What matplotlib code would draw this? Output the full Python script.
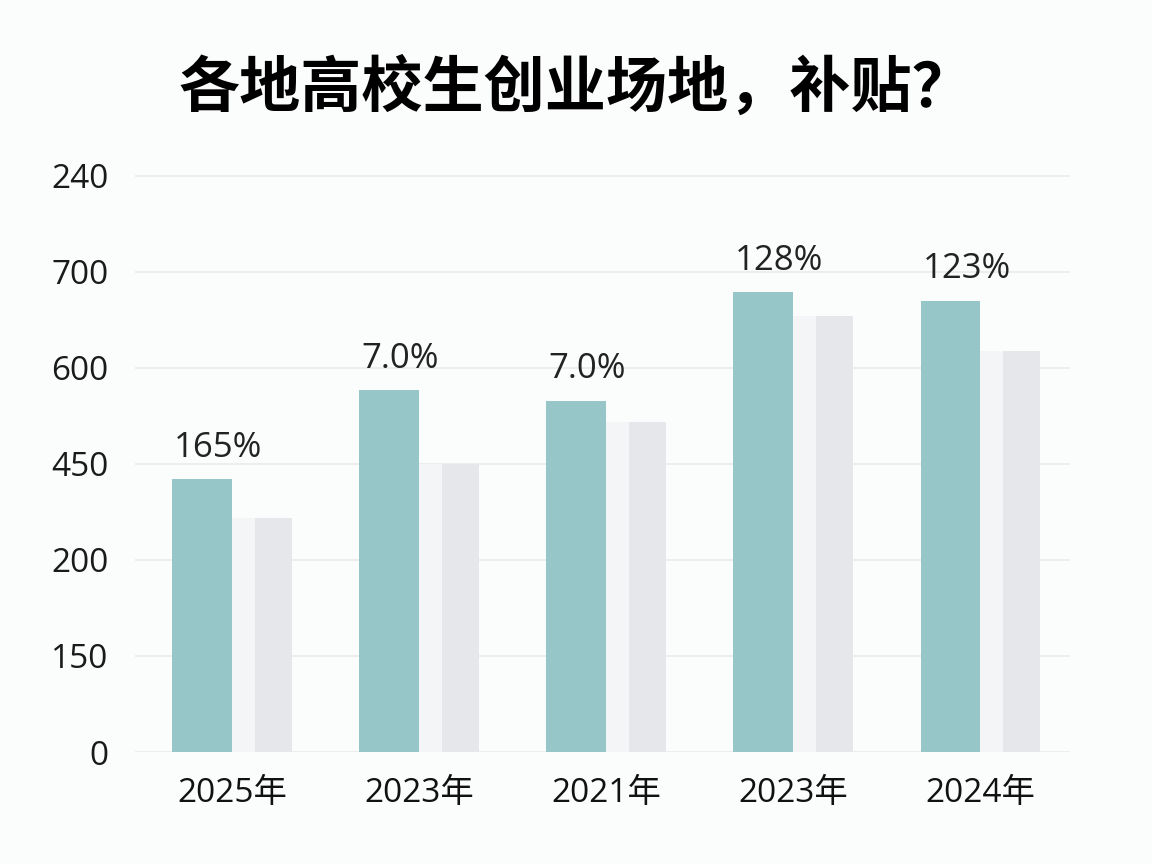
import matplotlib
matplotlib.use("Agg")
import matplotlib.pyplot as plt
import numpy as np

categories = ["2025年", "2023年", "2021年", "2023年", "2024年"]
teal_values = [2.84, 3.77, 3.66, 4.79, 4.70]
grey_values = [2.44, 3.00, 3.44, 4.54, 4.18]
bar_labels = ["165%", "7.0%", "7.0%", "128%", "123%"]
ytick_labels = ["0", "150", "200", "450", "600", "700", "240"]
title = "各地高校生创业场地，补贴？"

fam = ["Open Sans", "Noto Sans CJK SC", "DejaVu Sans"]
plt.rcParams["font.family"] = fam

bg = "#fbfcfc"
fig = plt.figure(figsize=(11.52, 8.64), dpi=100, facecolor=bg)
ax = fig.add_axes([0.117, 0.1296, 0.812, 0.678], facecolor=bg)

x = np.arange(len(categories))
w = 0.32
ax.bar(x - w / 2, teal_values, width=w, color="#97c6c9", zorder=3)
ax.bar(x + w / 2, grey_values, width=w, color="#f3f5f6", zorder=3)
gw = 0.20
ax.bar(x + w - gw / 2, grey_values, width=gw, color="#e6e7eb", zorder=3)

for xi, v, lab in zip(x, teal_values, bar_labels):
    ax.text(xi - w + 0.01, v + 0.15, lab, ha="left", va="bottom",
            fontsize=25, color="#222222")

ax.set_xlim(-0.52, 4.48)
ax.set_ylim(0, 6.1)
ax.set_yticks(range(len(ytick_labels)))
ax.set_yticklabels(ytick_labels, fontsize=24, color="#1a1a1a")
ax.set_xticks(x)
ax.set_xticklabels(categories, fontsize=24, color="#111111")
ax.tick_params(axis="both", length=0)
ax.tick_params(axis="y", pad=19)
ax.tick_params(axis="x", pad=18)
ax.grid(axis="y", color="#e9ebed", linewidth=1.2, zorder=0)
for s in ax.spines.values():
    s.set_visible(False)

fig.text(0.5, 0.897, title, ha="center", va="center", fontsize=44,
         fontweight="black", family=["Noto Sans CJK SC", "DejaVu Sans"],
         color="#000000")

fig.savefig("out.png", dpi=100, facecolor=bg)
